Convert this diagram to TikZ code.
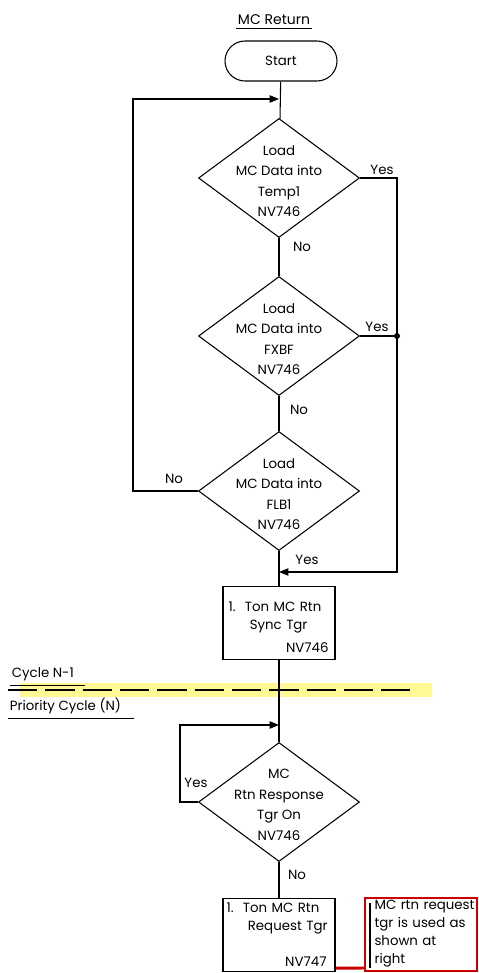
\documentclass[tikz,border=0pt]{standalone}
\usepackage{fontspec}
\setmainfont{Poppins}
\usetikzlibrary{arrows.meta, positioning, shapes.geometric, calc}

\begin{document}
\begin{tikzpicture}[x=0.75pt, y=-0.75pt,
  line width=0.8pt,
  every node/.style={font=\fontsize{10}{15.4}\selectfont},
  term/.style={draw, rounded corners=15pt, minimum width=84pt, minimum height=30pt},
  dia/.style={draw, diamond, inner sep=0pt, minimum width=120.75pt, minimum height=89.25pt},
  dtext/.style={align=center, inner sep=0pt},
  procbox/.style={draw, minimum width=84pt, minimum height=55pt, inner sep=0pt},
  boxtext/.style={align=left, text width=75pt, inner sep=0pt, anchor=north west,
                  font=\fontsize{10}{13.5}\selectfont},
  lbl/.style={inner sep=1pt},
  hdr/.style={inner sep=1pt, anchor=base west},
  notered/.style={draw=red!80!black, line width=2.2pt},
  arr/.style={-{Triangle[length=7pt, width=5.5pt]}}
]
  \useasboundingbox (0,0) rectangle (478,973);

  % Title
  \node[font=\fontsize{10.5}{12}\selectfont, inner sep=1pt] (ttl) at (274,20) {MC Return};
  \draw[line width=0.6pt] ($(ttl.south west)+(0,2)$) -- ($(ttl.south east)+(0,2)$);

  % Loading sequence
  \node[term] (st) at (281,61) {Start};
  \coordinate (j1) at (279,99);
  \node[dia] (d1) at (279,178) {};
  \node[dtext] (d1t) at (279,181) {Load\\MC Data into\\Temp1\\NV746};
  \node[dia] (d2) at (279,336) {};
  \node[dtext] (d2t) at (279,339) {Load\\MC Data into\\FXBF\\NV746};
  \node[dia] (d3) at (279,491) {};
  \node[dtext] (d3t) at (279,494) {Load\\MC Data into\\FLB1\\NV746};
  \coordinate (j2) at (279,572);
  \coordinate (rt) at (397,572);
  \node[procbox] (b1) at (279,623) {};
  \node[boxtext] (b1t) at (228,601) {\mbox{1.\hspace{7pt}Ton MC Rtn}\\\mbox{\hspace*{16pt}Sync Tgr}\\[4pt]\hfill NV746};

  \draw (st) -- (d1);
  \draw (d1) -- (d2);
  \draw (d2) -- (d3);
  \draw (d3) -- (b1);
  \draw[arr] (d3.west) -- ++(-65,0) |- (j1);
  \draw[arr] (d1.east) -| (rt) -- (j2);
  \draw (d2.east) -- (d2.east -| rt);
  \fill (d2.east -| rt) circle (3);

  \node[lbl] (y1) at (382,170) {Yes};
  \node[lbl] (n1) at (302,247) {No};
  \node[lbl] (y2) at (377,327) {Yes};
  \node[lbl] (n2) at (299,410) {No};
  \node[lbl] (n3) at (174,479) {No};
  \node[lbl] (y3) at (307,560) {Yes};

  % Cycle boundary
  \fill[yellow!60, opacity=0.7] (20,683) rectangle (432,697);
  \draw[dash pattern=on 22pt off 6pt] (8,690) -- (410,690);
  \node[hdr] (cyc1) at (10,677) {Cycle N-1};
  \draw[line width=0.6pt] (10,685) -- (85,685);
  \node[hdr] (cyc2) at (8,710) {Priority Cycle (N)};
  \draw[line width=0.6pt] (8,718) -- (134,718);

  % Response wait
  \coordinate (j3) at (279,725);
  \node[dia] (d4) at (279,802) {};
  \node[dtext] (d4t) at (279,805) {MC\\Rtn Response\\Tgr On\\NV746};
  \node[procbox] (b2) at (279,935) {};
  \node[boxtext] (b2t) at (226,902) {\mbox{1.\hspace{7pt}Ton MC Rtn}\\\mbox{\hspace*{16pt}Request Tgr}\\[14pt]\hfill NV747};

  \draw (b1) -- (d4);
  \draw[arr] (d4.west) -- ++(-18,0) |- (j3);
  \draw (d4) -- (b2);
  \node[lbl] (y4) at (196,783) {Yes};
  \node[lbl] (n4) at (297,875) {No};

  % Note
  \draw[notered] (365,898) rectangle (477,971);
  \draw[line width=1pt] (370,903) -- (370,968);
  \draw[notered] ($(b2.south east)+(0,-4)$) -- (365,968);
  \node[boxtext, text width=102pt] (note) at (374,900) {MC rtn request\\tgr is used as\\shown at\\right};
\end{tikzpicture}
\end{document}
